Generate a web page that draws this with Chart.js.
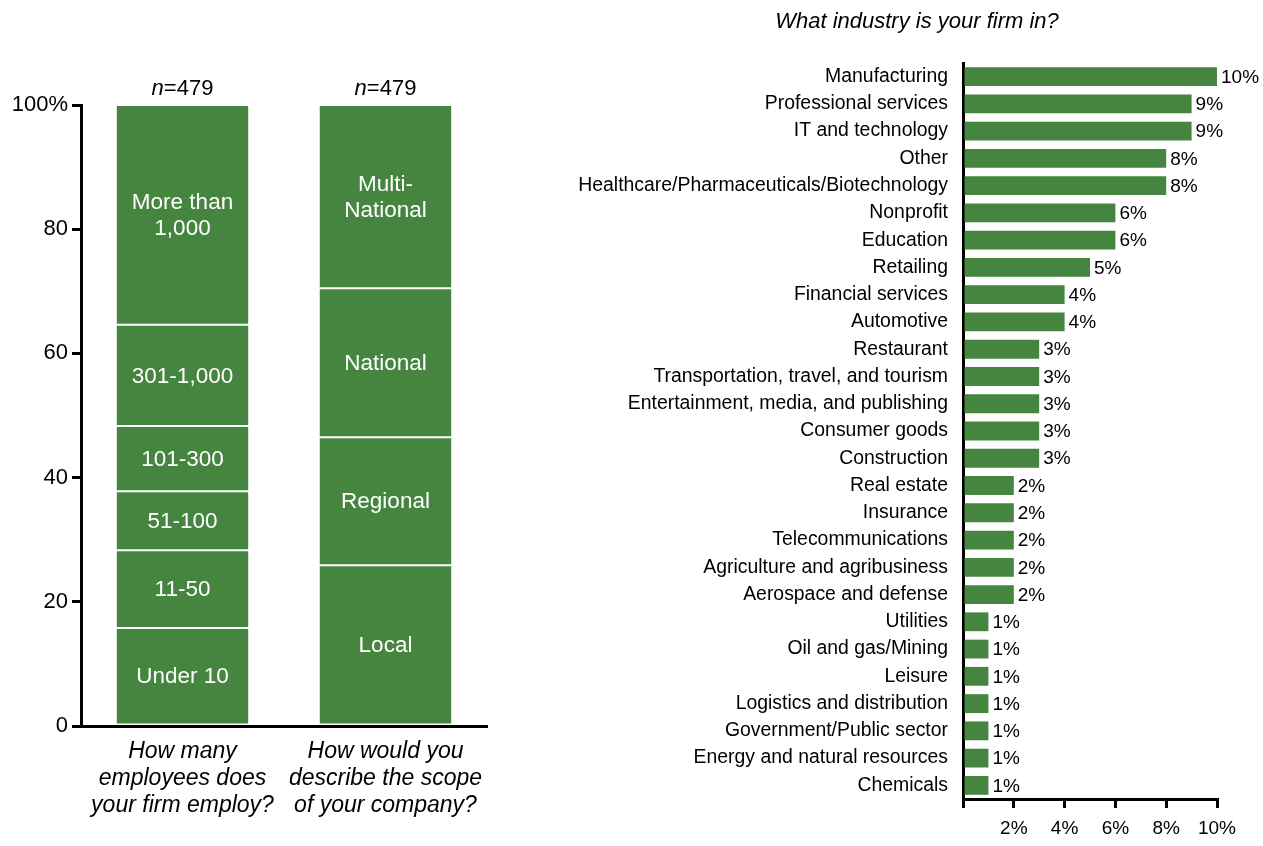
<!DOCTYPE html>
<html>
<head>
<meta charset="utf-8">
<script src="https://cdn.jsdelivr.net/npm/chart.js@4.4.1/dist/chart.umd.min.js"></script>
<style>
  body { margin: 0; background: #fff; }
  #sizeChart { position: absolute; left: 0; top: 0; }
  #industryChart { position: absolute; left: 540px; top: 0; }
</style>
</head>
<body>
<canvas id="sizeChart" width="530" height="846"></canvas>
<canvas id="industryChart" width="723" height="846"></canvas>
<script>
// left panel: two stacked columns
var questions = [
  ['How many', 'employees does', 'your firm employ?'],
  ['How would you', 'describe the scope', 'of your company?']
];
var sampleSizes = [479, 479];
var employeeBands = ['Under 10', '11-50', '51-100', '101-300', '301-1,000', 'More than\n1,000'];
var employeeShares = [15.8, 12.5, 9.5, 10.5, 16.3, 35.4];
var scopeBands = ['Local', 'Regional', 'National', 'Multi-\nNational'];
var scopeShares = [25.9, 20.6, 24.0, 29.5];
var percentTicks = [0, 20, 40, 60, 80, 100];

// right panel: industries
var industryTitle = 'What industry is your firm in?';
var industries = ['Manufacturing', 'Professional services', 'IT and technology', 'Other',
  'Healthcare/Pharmaceuticals/Biotechnology', 'Nonprofit', 'Education', 'Retailing',
  'Financial services', 'Automotive', 'Restaurant', 'Transportation, travel, and tourism',
  'Entertainment, media, and publishing', 'Consumer goods', 'Construction', 'Real estate',
  'Insurance', 'Telecommunications', 'Agriculture and agribusiness', 'Aerospace and defense',
  'Utilities', 'Oil and gas/Mining', 'Leisure', 'Logistics and distribution',
  'Government/Public sector', 'Energy and natural resources', 'Chemicals'];
var industryShares = [10, 9, 9, 8, 8, 6, 6, 5, 4, 4, 3, 3, 3, 3, 3, 2, 2, 2, 2, 2, 1, 1, 1, 1, 1, 1, 1];
var industryTicks = [0, 2, 4, 6, 8, 10];

var GREEN = '#46853f';
var FONT = "'Liberation Sans', Arial, sans-serif";
Chart.defaults.font.family = FONT;
Chart.defaults.color = '#000';

var stackSets = [];
employeeBands.forEach(function(b, i) {
  stackSets.push({ label: b, data: [employeeShares[i], null] });
});
scopeBands.forEach(function(b, i) {
  stackSets.push({ label: b, data: [null, scopeShares[i]] });
});
stackSets.forEach(function(ds) {
  ds.backgroundColor = GREEN;
  ds.borderColor = '#fff';
  ds.borderWidth = { top: 1, bottom: 1, left: 0, right: 0 };
  ds.borderSkipped = false;
  ds.barPercentage = 0.65;
  ds.categoryPercentage = 1;
});

var segmentLabels = {
  id: 'segmentLabels',
  afterDatasetsDraw: function(chart) {
    var ctx = chart.ctx;
    ctx.save();
    ctx.fillStyle = '#fff';
    ctx.font = '22.5px ' + FONT;
    ctx.textAlign = 'center';
    ctx.textBaseline = 'middle';
    chart.data.datasets.forEach(function(ds, i) {
      var meta = chart.getDatasetMeta(i);
      meta.data.forEach(function(bar, j) {
        if (ds.data[j] == null) return;
        var lines = ds.label.split('\n');
        var cy = (bar.y + bar.base) / 2 + 1 - (lines.length - 1) * 13;
        lines.forEach(function(line, k) {
          ctx.fillText(line, bar.x, cy + k * 26);
        });
      });
    });
    // n=479 above each column
    var totals = [0, 0];
    chart.data.datasets.forEach(function(ds) {
      ds.data.forEach(function(v, j) { if (v != null) totals[j] += v; });
    });
    ctx.fillStyle = '#000';
    ctx.textBaseline = 'alphabetic';
    sampleSizes.forEach(function(n, j) {
      var x = chart.scales.x.getPixelForValue(j);
      var y = chart.scales.y.getPixelForValue(totals[j]) - 10;
      ctx.font = 'italic 22px ' + FONT;
      var w1 = ctx.measureText('n').width;
      ctx.font = '22px ' + FONT;
      var w2 = ctx.measureText('=' + n).width;
      var left = x - (w1 + w2) / 2;
      ctx.textAlign = 'left';
      ctx.font = 'italic 22px ' + FONT;
      ctx.fillText('n', left, y);
      ctx.font = '22px ' + FONT;
      ctx.fillText('=' + n, left + w1, y);
    });
    ctx.restore();
  }
};

new Chart(document.getElementById('sizeChart'), {
  type: 'bar',
  data: { labels: questions, datasets: stackSets },
  plugins: [segmentLabels],
  options: {
    responsive: false,
    animation: false,
    devicePixelRatio: 1,
    layout: { padding: { top: 105, right: 43, bottom: 0, left: 0 } },
    plugins: { legend: { display: false }, tooltip: { enabled: false } },
    scales: {
      x: {
        stacked: true,
        grid: { display: false, drawTicks: false },
        border: { color: '#000', width: 3 },
        ticks: { font: { size: 23, style: 'italic', lineHeight: 1.17 }, padding: 12, maxRotation: 0 },
        afterFit: function(s) { s.height = 120; }
      },
      y: {
        stacked: true,
        min: 0, max: 100,
        afterBuildTicks: function(s) { s.ticks = percentTicks.map(function(v) { return { value: v }; }); },
        grid: { drawOnChartArea: false, drawTicks: true, tickLength: 9, color: '#000', lineWidth: 3 },
        border: { color: '#000', width: 3 },
        ticks: {
          font: { size: 22 }, padding: 4,
          callback: function(v) { return v === 100 ? '100%' : v; }
        },
        afterFit: function(s) { s.width = 81; }
      }
    }
  }
});

var valueLabels = {
  id: 'valueLabels',
  afterDatasetsDraw: function(chart) {
    var ctx = chart.ctx;
    ctx.save();
    ctx.fillStyle = '#000';
    ctx.font = '19px ' + FONT;
    ctx.textAlign = 'left';
    ctx.textBaseline = 'middle';
    chart.getDatasetMeta(0).data.forEach(function(bar, i) {
      ctx.fillText(industryShares[i] + '%', bar.x + 4, bar.y + 1);
    });
    // title
    ctx.font = 'italic 22px ' + FONT;
    ctx.textAlign = 'center';
    ctx.fillText(industryTitle, 377, 22);
    ctx.restore();
  }
};

new Chart(document.getElementById('industryChart'), {
  type: 'bar',
  data: {
    labels: industries,
    datasets: [{
      data: industryShares,
      backgroundColor: GREEN,
      borderWidth: 0,
      barPercentage: 0.69,
      categoryPercentage: 1
    }]
  },
  plugins: [valueLabels],
  options: {
    indexAxis: 'y',
    responsive: false,
    animation: false,
    devicePixelRatio: 1,
    layout: { padding: { top: 63, right: 46, bottom: 0, left: 0 } },
    plugins: { legend: { display: false }, tooltip: { enabled: false } },
    scales: {
      y: {
        grid: { display: false, drawTicks: false },
        border: { color: '#000', width: 3 },
        ticks: { font: { size: 19.4 }, padding: 15, autoSkip: false },
        afterFit: function(s) { s.width = 423; }
      },
      x: {
        min: 0, max: 10,
        afterBuildTicks: function(s) { s.ticks = industryTicks.map(function(v) { return { value: v }; }); },
        grid: { drawOnChartArea: false, drawTicks: true, tickLength: 9, color: '#000', lineWidth: 3 },
        border: { color: '#000', width: 3 },
        ticks: {
          font: { size: 19 }, padding: 9,
          callback: function(v) { return v === 0 ? '' : v + '%'; }
        },
        afterFit: function(s) { s.height = 47; }
      }
    }
  }
});
</script>
</body>
</html>
